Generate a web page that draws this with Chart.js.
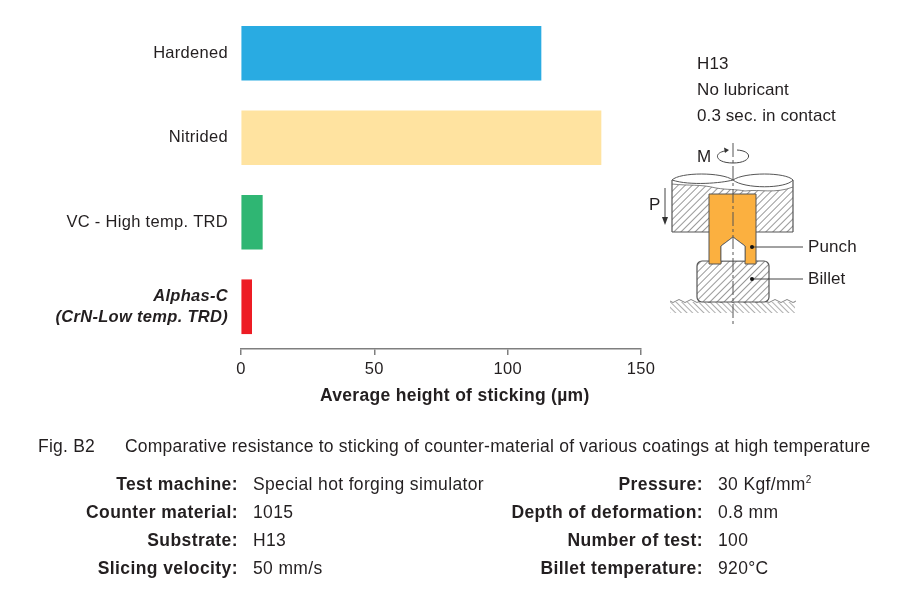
<!DOCTYPE html>
<html>
<head>
<meta charset="utf-8">
<title>Comparative resistance to sticking</title>
<script src="https://cdn.jsdelivr.net/npm/chart.js@4"></script>
<style>
  html, body { margin: 0; padding: 0; background: #fff; }
  #page { position: relative; width: 900px; height: 599px; overflow: hidden; font-family: "Liberation Sans", Arial, sans-serif; color: #231f20; }
  #chart { position: absolute; left: 0; top: 0; }
  #diagram { position: absolute; left: 0; top: 0; }
  .t { position: absolute; white-space: nowrap; font-size: 17.5px; letter-spacing: 0.22px; line-height: 20px; }
  .c { font-size: 17px; letter-spacing: 0.1px; }
  .v { letter-spacing: 0.35px; }
  .r { text-align: right; font-weight: bold; letter-spacing: 0.42px; }
  .b { font-weight: bold; letter-spacing: 0.3px; }
  sup { font-size: 10px; line-height: 0; }
</style>
</head>
<body>
<div id="page">
  <canvas id="chart" width="900" height="599"></canvas>

  <!-- test rig sketch -->
  <svg id="diagram" width="900" height="599" xmlns="http://www.w3.org/2000/svg">
    <defs>
      <pattern id="hatch" width="5" height="5" patternUnits="userSpaceOnUse" patternTransform="rotate(45)">
        <line x1="0" y1="0" x2="0" y2="5" stroke="#333" stroke-width="1"/>
      </pattern>
      <pattern id="hatch2" width="4" height="4" patternUnits="userSpaceOnUse" patternTransform="rotate(-45)">
        <line x1="0" y1="0" x2="0" y2="4" stroke="#333" stroke-width="0.8"/>
      </pattern>
    </defs>
    <!-- die -->
    <path d="M672 184 C690 186 700 184 716 188 C728 190 735 189 745 191 C760 189 775 194 793 187 V232 H672 Z" fill="url(#hatch)"/>
    <path d="M672 232 V180 M793 180 V232 M672 232 H709 M756 232 H793" fill="none" stroke="#555" stroke-width="1.2"/>
    <path d="M672 180 C680 172 722 172 733 180 C744 172 786 172 793 180 C786 189 744 189 733 180 C722 183 690 186 672 180 Z" fill="#fff" stroke="#555" stroke-width="1"/>
    <path d="M672 184 C690 186 700 184 716 188 C728 190 735 189 745 191 C760 189 775 194 793 187" fill="none" stroke="#666" stroke-width="0.8"/>
    <!-- ground -->
    <rect x="670" y="302" width="125" height="11" fill="url(#hatch2)"/>
    <path d="M670 301 q3 3 6 0 t6 0 t6 0 t6 0 t6 0 t6 0 t6 0 t6 0 t6 0 t6 0 t6 0 t6 0 t6 0 t6 0 t6 0 t6 0 t6 0 t6 0 t6 0 t6 0 t6 0" fill="none" stroke="#666" stroke-width="0.8"/>
    <!-- billet -->
    <rect x="697" y="261" width="72" height="41" rx="5" fill="#fff"/>
    <rect x="697" y="261" width="72" height="41" rx="5" fill="url(#hatch)" stroke="#555" stroke-width="1.2"/>
    <!-- punch -->
    <path d="M709 194 H756 V264 H745 V246 L733 237 L721 246 V264 H709 Z" fill="#fbb040" stroke="#555" stroke-width="1"/>
    <path d="M721 246 L733 237 L745 246 V261 H721 Z" fill="#fff" stroke="#555" stroke-width="0.8"/>
    <!-- centre line -->
    <line x1="733" y1="143" x2="733" y2="327" stroke="#555" stroke-width="1" stroke-dasharray="14 3 3 3"/>
    <!-- moment arrow -->
    <path d="M725 151 C713 153 715 163 733 163 C752 163 754 151 737 150" fill="none" stroke="#444" stroke-width="1"/>
    <path d="M729 150 L724 147.5 L725 153 Z" fill="#333"/>
    <!-- pressure arrow -->
    <line x1="665" y1="188" x2="665" y2="222" stroke="#444" stroke-width="1"/>
    <path d="M662 217 L665 225 L668 217 Z" fill="#333"/>
    <!-- leaders -->
    <line x1="752" y1="247" x2="803" y2="247" stroke="#444" stroke-width="1"/>
    <circle cx="752" cy="247" r="2" fill="#111"/>
    <line x1="752" y1="279" x2="803" y2="279" stroke="#444" stroke-width="1"/>
    <circle cx="752" cy="279" r="2" fill="#111"/>
  </svg>
  <div id="notes"></div>
</div>

<script>
// Chart values
const categories = ['Hardened', 'Nitrided', 'VC - High temp. TRD', ['Alphas-C', '(CrN-Low temp. TRD)']];
const stickingHeight = [112.5, 135, 8, 4];
const barColors = ['#29abe2', '#ffe3a0', '#2fb673', '#ed1c24'];
const xTicks = [0, 50, 100, 150];
const xTitle = 'Average height of sticking (\u00b5m)';

// Text around the chart
const figLabel = 'Fig. B2';
const caption = 'Comparative resistance to sticking of counter-material of various coatings at high temperature';
const conditions = ['H13', 'No lubricant', '0.3 sec. in contact'];
const leftLabels = ['Test machine:', 'Counter material:', 'Substrate:', 'Slicing velocity:'];
const leftValues = ['Special hot forging simulator', '1015', 'H13', '50 mm/s'];
const rightLabels = ['Pressure:', 'Depth of deformation:', 'Number of test:', 'Billet temperature:'];
const rightValues = ['30 Kgf/mm<sup>2</sup>', '0.8 mm', '100', '920\u00b0C'];
const rigLabels = [['M', 697, 157], ['P', 649, 205], ['Punch', 808, 247], ['Billet', 808, 279]];

const notes = document.getElementById('notes');

function addText(html, x, y, cls) {
    const el = document.createElement('div');
    el.className = 't ' + (cls || '');
    el.innerHTML = html;
    el.style.top = (y - 10) + 'px';
    if (cls === 'r') {
        el.style.right = (900 - x) + 'px';
    } else {
        el.style.left = x + 'px';
    }
    notes.appendChild(el);
}

conditions.forEach((c, i) => addText(c, 697, 64 + i * 26, 'c'));
rigLabels.forEach(l => addText(l[0], l[1], l[2], 'c'));
// axis title sits right of the plot centre in the original, so it is placed by hand
addText(xTitle, 320, 395, 'b');
addText(figLabel, 38, 446);
addText(caption, 125, 446);
leftLabels.forEach((l, i) => {
    addText(l, 238, 484 + i * 28, 'r');
    addText(leftValues[i], 253, 484 + i * 28, 'v');
});
rightLabels.forEach((l, i) => {
    addText(l, 703, 484 + i * 28, 'r');
    addText(rightValues[i], 718, 484 + i * 28, 'v');
});

// the original artwork has slightly tracked type
const trackedType = {
    id: 'trackedType',
    beforeDraw(chart) {
        chart.ctx.letterSpacing = '0.3px';
    }
};

new Chart(document.getElementById('chart'), {
    type: 'bar',
    data: {
        labels: categories,
        datasets: [{
            data: stickingHeight,
            backgroundColor: barColors,
            barThickness: 54
        }]
    },
    plugins: [trackedType],
    options: {
        indexAxis: 'y',
        responsive: false,
        animation: false,
        layout: {
            padding: { top: 11, right: 259, bottom: 194, left: 0 }
        },
        plugins: {
            legend: { display: false },
            tooltip: { enabled: false }
        },
        scales: {
            y: {
                grid: { display: false, drawTicks: false },
                border: { display: false },
                afterFit: scale => {
                    scale.width = 241;
                    scale.paddingTop = 0;
                    scale.paddingBottom = 0;
                },
                ticks: {
                    padding: 13,
                    color: '#231f20',
                    font: ctx => ({
                        family: '"Liberation Sans", Arial, sans-serif',
                        size: 16.5,
                        weight: ctx.index === 3 ? 'bold' : 'normal',
                        style: ctx.index === 3 ? 'italic' : 'normal',
                        lineHeight: 1.3
                    })
                }
            },
            x: {
                min: 0,
                max: 150,
                afterFit: scale => { scale.height = 56; },
                afterBuildTicks: scale => { scale.ticks = xTicks.map(v => ({ value: v })); },
                grid: { drawOnChartArea: false, color: '#7f7f7f', tickLength: 6, lineWidth: 1.5 },
                border: { color: '#7f7f7f', width: 1.5 },
                ticks: {
                    padding: 5,
                    maxRotation: 0,
                    color: '#231f20',
                    font: { family: '"Liberation Sans", Arial, sans-serif', size: 16.5 }
                }
            }
        }
    }
});
</script>
</body>
</html>
